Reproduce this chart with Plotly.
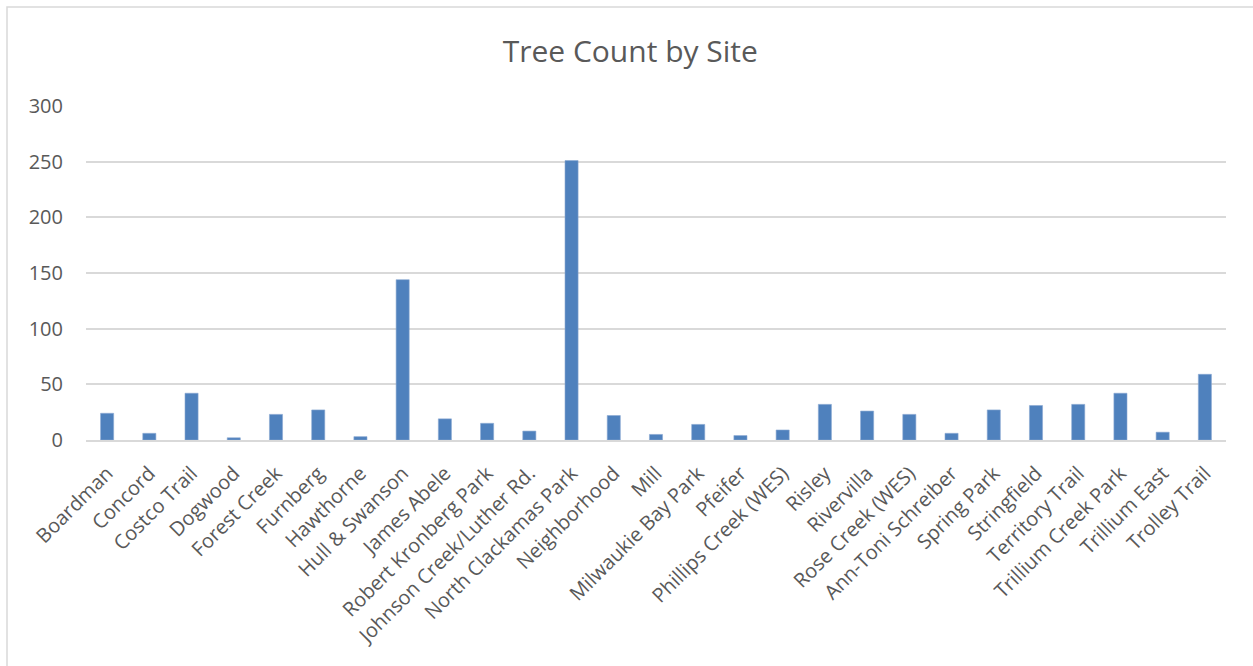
import plotly.graph_objects as go

sites = ["Boardman", "Concord", "Costco Trail", "Dogwood", "Forest Creek", "Furnberg",
         "Hawthorne", "Hull & Swanson", "James Abele", "Robert Kronberg Park",
         "Johnson Creek/Luther Rd.", "North Clackamas Park", "Neighborhood", "Mill",
         "Milwaukie Bay Park", "Pfeifer", "Phillips Creek (WES)", "Risley", "Rivervilla",
         "Rose Creek (WES)", "Ann-Toni Schreiber", "Spring Park", "Stringfield",
         "Territory Trail", "Trillium Creek Park", "Trillium East", "Trolley Trail"]
tree_counts = [24, 6, 42, 2, 23, 27, 3, 144, 19, 15, 8, 251, 22, 5, 14, 4, 9, 32, 26,
               23, 6, 27, 31, 32, 42, 7, 59]
y_ticks = [0, 50, 100, 150, 200, 250, 300]

TXT = "#595959"
GRID = "#D9D9D9"
FONT = "Open Sans, Liberation Sans, sans-serif"

fig = go.Figure(go.Bar(
    x=sites, y=tree_counts,
    marker=dict(color="#4F81BD", line=dict(color="#8AA8D2", width=0.6)),
))

fig.update_layout(
    width=1253, height=666,
    paper_bgcolor="white", plot_bgcolor="white",
    margin=dict(l=86, r=27, t=106, b=226),
    bargap=0.69,
    showlegend=False,
    title=dict(text="Tree Count by Site", x=0.503, xref="container", xanchor="center",
               y=1 - 51 / 666, yref="container", yanchor="middle",
               font=dict(family=FONT, size=30, color=TXT)),
    font=dict(family=FONT, color=TXT),
    shapes=[dict(type="rect", xref="paper", yref="paper",
                 x0=(7 - 86) / 1140, x1=1.2, y0=-1.0, y1=1 + (106 - 7) / 334,
                 line=dict(color=GRID, width=1.5), fillcolor="rgba(0,0,0,0)", layer="below")],
)

fig.update_xaxes(
    tickangle=-45, tickfont=dict(size=20, color=TXT),
    showline=True, linecolor=GRID, linewidth=1.5,
    showgrid=False, ticks="", ticklabelstandoff=12,
)
fig.update_yaxes(
    range=[0, 300], tickvals=y_ticks, tickfont=dict(size=20, color=TXT),
    showgrid=True, gridcolor=GRID, gridwidth=1.5,
    zeroline=False, showline=False, ticks="", ticklabelstandoff=22,
)

fig.write_html(
    "out.html",
    config={"displayModeBar": False},
    post_script="document.body.style.margin='0';document.body.style.overflow='hidden';",
)
